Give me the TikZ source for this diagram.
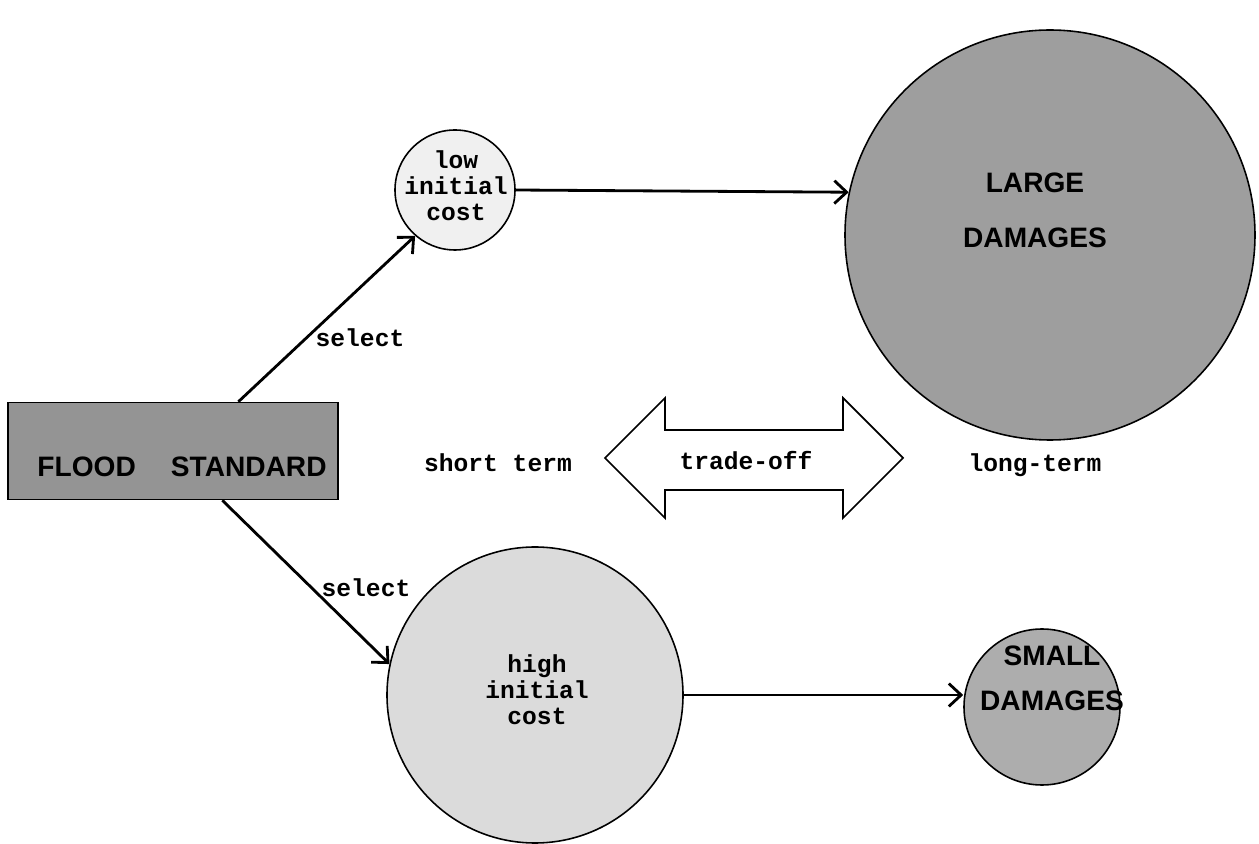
\documentclass[tikz,border=0pt]{standalone}
\usepackage{fontspec}
\setmainfont{Liberation Serif}
\setsansfont{Liberation Sans}
\setmonofont{Liberation Mono}
\usetikzlibrary{arrows.meta}

\newdimen\pxu \pxu=0.02cm

\tikzset{
  conn/.style={line width=1.6pt, -{Straight Barb[length=7pt,width=13pt,line width=1.6pt]}},
  disc/.style={circle, draw, line width=0.9pt, inner sep=0pt},
  stdbox/.style={rectangle, draw, line width=0.9pt, fill=black!42},
  term/.style={font=\fontsize{14}{14.7}\selectfont\ttfamily\bfseries, align=center},
  heavy/.style={font=\fontsize{16}{25.5}\selectfont\sffamily\bfseries, align=center},
}

\begin{document}
\begin{tikzpicture}[x=0.02cm, y=-0.02cm]
  \useasboundingbox (0,0) rectangle (1259,844);

  % standard box
  \node[stdbox, minimum width=330\pxu, minimum height=97\pxu] (flood) at (173,451) {};
  \node[heavy] (floodtxt) at (182,467) {FLOOD\hspace{1.25em}STANDARD};

  % costs
  \node[disc, fill=black!6, minimum size=120\pxu] (low) at (455,190) {};
  \node[term] (lowtxt) at (456,186) {low\\initial\\cost};
  \node[disc, fill=black!14, minimum size=296\pxu] (high) at (535,695) {};
  \node[term] (hightxt) at (537,690) {high\\initial\\cost};

  % damages
  \node[disc, fill=black!38, minimum size=410\pxu] (large) at (1050,235) {};
  \node[heavy] (largetxt) at (1035,210) {LARGE\\[6pt]DAMAGES};
  \node[disc, fill=black!32, minimum size=156\pxu] (small) at (1042,707) {};
  \node[heavy] (smalltxt) at (1052,678) {SMALL\\DAMAGES};

  \draw[conn] (flood.37) -- (low.229);
  \draw[conn] (flood.-45) -- (high.168);
  \draw[conn] (low.east) -- (large.168);
  \draw[conn] (high.east) -- (high.east -| small.west);

  \node[term, anchor=base] (sel1) at (360,347) {select};
  \node[term, anchor=base] (sel2) at (366,597) {select};

  % trade-off arrow
  \draw[line width=1pt] (605,458) -- (665,398) -- (665,430) -- (843,430) -- (843,398)
    -- (903,458) -- (843,518) -- (843,490) -- (665,490) -- (665,518) -- cycle;
  \node[term, anchor=base] (trade) at (746,470) {trade-off};
  \node[term, anchor=base] (short) at (498,472) {short term};
  \node[term, anchor=base] (long) at (1035,472) {long-term};

\end{tikzpicture}
\end{document}
